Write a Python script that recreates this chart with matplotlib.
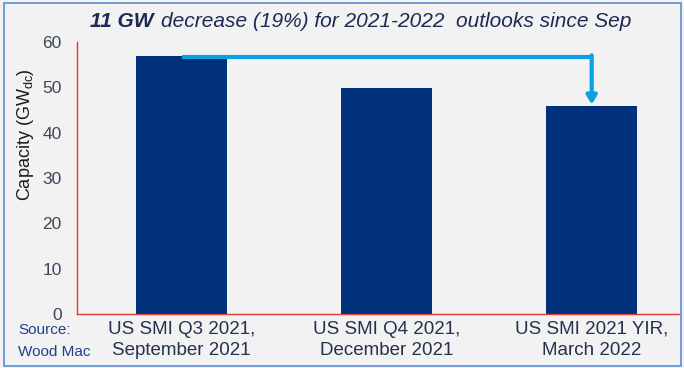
import numpy as np
import matplotlib.pyplot as plt
from matplotlib.patches import Rectangle

plt.rcParams['font.family'] = ['Liberation Sans', 'DejaVu Sans']

outlooks = ['US SMI Q3 2021,\nSeptember 2021', 'US SMI Q4 2021,\nDecember 2021',
            'US SMI 2021 YIR,\nMarch 2022']
capacity = [56.9, 49.8, 45.9]
yticks = [0, 10, 20, 30, 40, 50, 60]

bar_col = '#00317a'
arrow_col = '#0aa0e2'
text_col = '#26304f'

fig = plt.figure(figsize=(6.84, 3.68), dpi=100)
fig.patch.set_facecolor('#f2f2f2')
fig.patches.append(Rectangle((0.006, 0.006), 0.989, 0.985, transform=fig.transFigure,
                             fill=False, edgecolor='#5b8ed6', linewidth=1.2))

ax = fig.add_axes([0.1126, 0.1467, 0.8814, 0.7393])
ax.set_facecolor('#f2f2f2')
x = np.arange(len(outlooks))
ax.bar(x, capacity, width=0.444, color=bar_col, zorder=2)

ax.set_xlim(-0.51, 2.43)
ax.set_ylim(0, 60)
ax.set_yticks(yticks)
ax.set_yticklabels([str(v) for v in yticks], fontsize=12.5, color='#3c4658')
ax.set_xticks(x)
ax.set_xticklabels(outlooks, fontsize=13.5, color=text_col, linespacing=1.3)
ax.tick_params(length=0, pad=11)
ax.tick_params(axis='x', pad=5)
for s in ['top', 'right']:
    ax.spines[s].set_visible(False)
for s in ['left', 'bottom']:
    ax.spines[s].set_color('#e03a3a')
    ax.spines[s].set_linewidth(1.0)

ax.set_ylabel('Capacity (GW$_{\\mathregular{dc}}$)', fontsize=13, color='#1b1b1b')
ax.yaxis.set_label_coords(-0.068, 0.66)

# decrease arrow: from first bar top across to last bar
y_top = capacity[0] - 0.2
ax.plot([x[0], x[2]], [y_top, y_top], color=arrow_col, lw=3, solid_capstyle='butt', zorder=3)
ax.annotate('', xy=(x[2], capacity[2] + 0.3), xytext=(x[2], y_top + 0.35),
            arrowprops=dict(arrowstyle='-|>,head_width=0.3,head_length=0.5',
                            color=arrow_col, lw=3, shrinkA=0, shrinkB=0), zorder=3)

# title: bold part then regular part placed right after it
t1 = fig.text(0.131, 0.942, '11 GW', fontsize=15, fontweight='bold', style='italic',
              color='#1c2a55', ha='left', va='center')
fig.canvas.draw()
bb = t1.get_window_extent().transformed(fig.transFigure.inverted())
fig.text(bb.x1 + 0.012, 0.942, 'decrease (19%) for 2021-2022  outlooks since Sep', fontsize=15,
         style='italic', color='#1c2a55', ha='left', va='center')

fig.text(0.027, 0.103, 'Source:', fontsize=11, color='#1f3f8f', va='center')
fig.text(0.027, 0.043, 'Wood Mac', fontsize=11, color='#1f3f8f', va='center')

plt.savefig('out.png', dpi=100, facecolor=fig.get_facecolor())
